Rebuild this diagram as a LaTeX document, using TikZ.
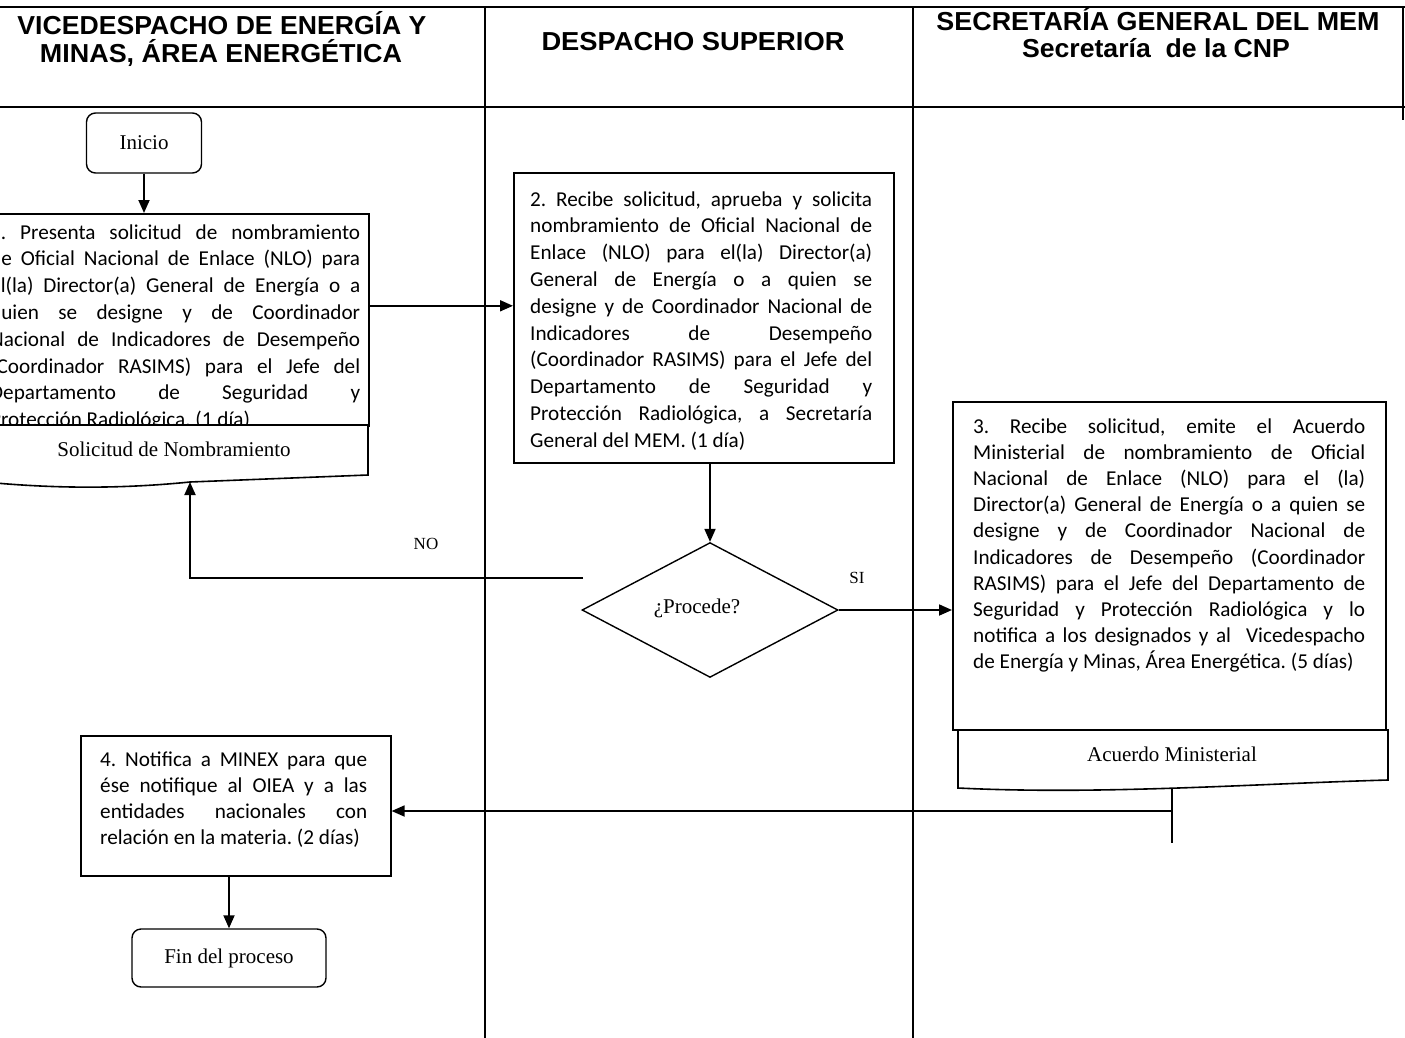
\documentclass[tikz,border=0pt]{standalone}
\usepackage{fontspec}
\usepackage{graphicx}
\setmainfont{Carlito}
\newfontfamily\hdfont{Liberation Sans}
\newfontfamily\tmfont{Liberation Serif}
\usetikzlibrary{arrows.meta,shapes.geometric}

% justified lines with fixed breaks, never hyphenated
\tolerance=10000
\hbadness=10000
\hfuzz=20pt
\hyphenpenalty=10000
\exhyphenpenalty=10000
\frenchspacing

\newcommand\bodyfont[1]{\fontsize{21.2}{#1}\selectfont
  \spaceskip=0.226em plus 4em minus 0.05em\relax\xspaceskip=\spaceskip}

\tikzset{
  lane/.style={line width=1.5pt},
  hd/.style={font=\hdfont\bfseries\fontsize{26}{30}\selectfont, inner sep=0pt, anchor=base},
  proc/.style={draw, line width=1.6pt, fill=white, inner sep=0pt},
  body/.style={inner sep=0pt, anchor=base west, align=justify},
  term/.style={draw, line width=1.4pt, rounded corners=9pt, inner sep=0pt,
               font=\tmfont\fontsize{21}{25}\selectfont},
  doclabel/.style={inner sep=0pt, anchor=base, font=\tmfont\fontsize{21}{25}\selectfont},
  lbl/.style={inner sep=0pt, anchor=base, font=\tmfont\fontsize{17}{20}\selectfont},
  flow/.style={line width=1.8pt, -{Triangle[length=13pt,width=11pt]}},
  link/.style={line width=1.8pt}
}

\begin{document}
\begin{tikzpicture}[x=1pt,y=-1pt]
\useasboundingbox (0,0) rectangle (1405,1038);
\clip (0,0) rectangle (1405,1038);
\fill[white] (0,0) rectangle (1405,1038);

% swimlane frame
\draw[lane] (0,7) -- (1405,7);
\draw[lane] (0,107) -- (1405,107);
\draw[lane] (485,7) -- (485,1038);
\draw[lane] (913,7) -- (913,1038);
\draw[lane] (1403,7) -- (1403,120);

% lane headings
\node[hd] (h1a) at (222,35) {\resizebox{409pt}{\height}{VICEDESPACHO DE ENERGÍA Y}};
\node[hd] (h1b) at (221,63) {\resizebox{362pt}{\height}{MINAS, ÁREA ENERGÉTICA}};
\node[hd] (h2)  at (693,51) {\resizebox{303pt}{\height}{DESPACHO SUPERIOR}};
\node[hd] (h3a) at (1158,31) {\resizebox{443pt}{\height}{SECRETARÍA GENERAL DEL MEM}};
\node[hd] (h3b) at (1156,58) {\resizebox{268pt}{\height}{Secretaría\ \ de la CNP}};

% start
\node[term, minimum width=115pt, minimum height=60pt] (ini) at (144,143) {Inicio};

% step 1
\node[proc, minimum width=393pt, minimum height=212pt, anchor=north west] (p1) at (-25,213) {};
\node[body, text width=370pt, font=\bodyfont{26.8}] (p1t) at (-10,239)
  {1. Presenta solicitud de nombramiento\linebreak
   de Oficial Nacional de Enlace (NLO) para\linebreak
   el(la) Director(a) General de Energía o a\linebreak
   quien se designe y de Coordinador\linebreak
   Nacional de Indicadores de Desempeño\linebreak
   (Coordinador RASIMS) para el Jefe del\linebreak
   Departamento de Seguridad y\linebreak
   Protección Radiológica. (1 día)};
\draw[proc] (-25,425) -- (368,425) -- (368,475) -- (190,482)
  .. controls (130,488) and (60,490) .. (-25,481) -- cycle;
\coordinate (d1b) at (190,482);
\node[doclabel] (d1) at (174,456) {Solicitud de Nombramiento};

% step 2
\node[proc, minimum width=380pt, minimum height=290pt, anchor=north west] (p2) at (513,172) {};
\node[body, text width=342pt, font=\bodyfont{26.8}] (p2t) at (530,206)
  {2. Recibe solicitud, aprueba y solicita\linebreak
   nombramiento de Oficial Nacional de\linebreak
   Enlace (NLO) para el(la) Director(a)\linebreak
   General de Energía o a quien se\linebreak
   designe y de Coordinador Nacional de\linebreak
   Indicadores de Desempeño\linebreak
   (Coordinador RASIMS) para el Jefe del\linebreak
   Departamento de Seguridad y\linebreak
   Protección Radiológica, a Secretaría\linebreak
   General del MEM. (1 día)};

% decision
\node[draw, diamond, line width=1.4pt, inner sep=0pt, minimum width=256pt, minimum height=114pt,
      font=\tmfont\fontsize{21}{25}\selectfont] (q) at (710,610)
  {\raisebox{8pt}{¿Procede?}\hspace*{26pt}};

% step 3
\node[proc, minimum width=433pt, minimum height=328pt, anchor=north west] (p3) at (952,401) {};
\node[body, text width=392pt, font=\bodyfont{26.2}] (p3t) at (973,433)
  {3. Recibe solicitud, emite el Acuerdo\linebreak
   Ministerial de nombramiento de Oficial\linebreak
   Nacional de Enlace (NLO) para el (la)\linebreak
   Director(a) General de Energía o a quien se\linebreak
   designe y de Coordinador Nacional de\linebreak
   Indicadores de Desempeño (Coordinador\linebreak
   RASIMS) para el Jefe del Departamento de\linebreak
   Seguridad y Protección Radiológica y lo\linebreak
   notifica a los designados y al\ \ Vicedespacho\linebreak
   de Energía y Minas, Área Energética. (5 días)};
\draw[proc] (958,730) -- (1388,730) -- (1388,780)
  .. controls (1250,784) and (1100,795) .. (958,788) -- cycle;
\coordinate (d2b) at (1172,788);
\node[doclabel] (d2) at (1172,761) {Acuerdo Ministerial};

% step 4
\node[proc, minimum width=310pt, minimum height=140pt, anchor=north west] (p4) at (80,735) {};
\node[body, text width=267pt, font=\bodyfont{26}] (p4t) at (100,766)
  {4. Notifica a MINEX para que\linebreak
   ése notifique al OIEA y a las\linebreak
   entidades nacionales con\linebreak
   relación en la materia. (2 días)};

% end
\node[term, minimum width=194pt, minimum height=58pt] (fin) at (229,958) {Fin del proceso};

% connectors
\draw[flow] (ini.south) -- (ini.south |- p1.north);
\draw[flow] ([yshift=14pt]p1.east) coordinate (a12) -- (a12 -| p2.west);
\draw[flow] (p2.south -| q.north) -- (q.north);
\coordinate (nos) at (583,578);
\draw[flow] (nos) -| (d1b);
\node[lbl] (nol) at (426,549) {NO};
\draw[flow] (q.east) -- (q.east -| p3.west);
\node[lbl] (sil) at (857,583) {SI};
\coordinate (jn) at (1172,811);
\coordinate (d2e) at (1172,843);
\draw[link] (d2b) -- (d2e);
\draw[flow] (jn) -- (jn -| p4.east);
\draw[flow] (fin.north |- p4.south) -- (fin.north);
\end{tikzpicture}
\end{document}
